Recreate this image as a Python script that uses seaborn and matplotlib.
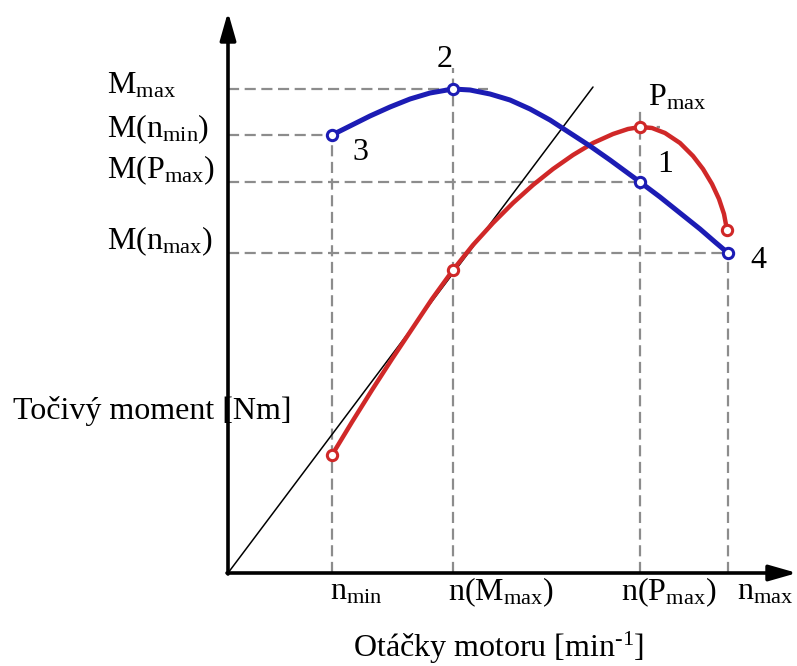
import matplotlib
matplotlib.use("Agg")
import matplotlib.pyplot as plt
import seaborn as sns
import pandas as pd

# ---- data (schematic units; origin at the axes corner) ----
key_x = {"n_min": 104, "n_Mmax": 225, "n_Pmax": 412, "n_max": 500}
key_y = {"M_max": 484, "M_nmin": 438, "M_Pmax": 391, "M_nmax": 320}

torque_x = [104, 122, 142, 162, 182, 202, 225, 242, 262, 282, 302, 322,
            342, 362, 382, 397, 412, 432, 452, 472, 487, 500]
torque_y = [438, 447, 457, 466, 474, 480, 484, 483, 479, 473, 464, 453,
            440, 427, 413, 402, 391, 376, 360, 344, 331, 320]
torque_pts_x = [104, 225, 412, 500]
torque_pts_y = [438, 484, 391, 320]
torque_pts_lab = ["3", "2", "1", "4"]

power_x = [104, 124, 144, 164, 184, 204, 225, 245, 265, 285, 305, 325, 345,
           365, 385, 400, 412, 424, 437, 452, 465, 475, 484, 491, 496, 499]
power_y = [118, 151, 183, 214, 244, 274, 303, 328, 350, 370, 388, 404, 418,
           430, 439, 444, 446, 445, 440, 430, 417, 404, 389, 374, 359, 343]
power_pts_x = [104, 225, 412, 499]
power_pts_y = [118, 303, 446, 343]

diag_x = [0, 365]
diag_y = [0, 486]

ytick_labels = [r"M$_{\mathrm{max}}$", r"M(n$_{\mathrm{min}}$)", r"M(P$_{\mathrm{max}}$)", r"M(n$_{\mathrm{max}}$)"]
xtick_labels = [r"n$_{\mathrm{min}}$", r"n(M$_{\mathrm{max}}$)", r"n(P$_{\mathrm{max}}$)", r"n$_{\mathrm{max}}$"]
ylabel = "Točivý moment [Nm]"
xlabel = r"Otáčky motoru [min$^{\text{-1}}$]"

sns.set_theme(style="white")
plt.rcParams["font.family"] = ["Liberation Serif", "DejaVu Serif"]
plt.rcParams["mathtext.fontset"] = "custom"
plt.rcParams["mathtext.rm"] = "Liberation Serif"
plt.rcParams["mathtext.it"] = "Liberation Serif:italic"
plt.rcParams["text.color"] = "black"

fig = plt.figure(figsize=(7.97, 6.66), dpi=100)
ax = fig.add_axes([0, 0, 1, 1])
ax.set_xlim(-228, 569)
ax.set_ylim(-93, 573)
ax.axis("off")

BLUE = "#1c1cb4"
RED = "#d02828"
GRID = "#8c8c8c"
FS = 23

# dashed guide lines
gkw = dict(color=GRID, lw=1.6, ls=(0, (5, 2.5)), zorder=1)
ax.plot([0, 260], [key_y["M_max"]] * 2, **gkw)
ax.plot([0, key_x["n_min"]], [key_y["M_nmin"]] * 2, **gkw)
ax.plot([0, key_x["n_Pmax"]], [key_y["M_Pmax"]] * 2, **gkw)
ax.plot([0, key_x["n_max"]], [key_y["M_nmax"]] * 2, **gkw)
ax.plot([key_x["n_Pmax"], 432], [446, 446], **gkw)
ax.plot([key_x["n_min"]] * 2, [0, key_y["M_nmin"]], **gkw)
ax.plot([key_x["n_Mmax"]] * 2, [0, 505], **gkw)
ax.plot([key_x["n_Pmax"]] * 2, [0, 465], **gkw)
ax.plot([key_x["n_max"]] * 2, [0, key_y["M_nmax"]], **gkw)

# diagonal reference line
sns.lineplot(x=diag_x, y=diag_y, ax=ax, color="black", lw=1.1, zorder=2)

# curves
df_t = pd.DataFrame({"x": torque_x, "y": torque_y})
df_p = pd.DataFrame({"x": power_x, "y": power_y})
sns.lineplot(data=df_p, x="x", y="y", sort=False, ax=ax, color=RED, lw=3.2, zorder=3,
             solid_joinstyle="round", solid_capstyle="round")
sns.lineplot(data=df_t, x="x", y="y", sort=False, ax=ax, color=BLUE, lw=3.6, zorder=4,
             solid_joinstyle="round", solid_capstyle="round")
sns.scatterplot(x=power_pts_x, y=power_pts_y, ax=ax, s=55, facecolor="white",
                edgecolor=RED, linewidth=2.2, zorder=5)
sns.scatterplot(x=torque_pts_x, y=torque_pts_y, ax=ax, s=55, facecolor="white",
                edgecolor=BLUE, linewidth=2.2, zorder=6)

# axes with arrows
ax.annotate("", xy=(0, 561), xytext=(0, -1),
            arrowprops=dict(arrowstyle="-|>,head_length=1.4,head_width=0.4", lw=2.6,
                            color="black", shrinkA=0, shrinkB=0), zorder=7)
ax.annotate("", xy=(569, 0), xytext=(-1, 0),
            arrowprops=dict(arrowstyle="-|>,head_length=1.4,head_width=0.4", lw=2.6,
                            color="black", shrinkA=0, shrinkB=0), zorder=7)

# y labels
ylab_y = [479, 436, 395, 324]
for lab, yy in zip(ytick_labels, ylab_y):
    ax.text(-121, yy, lab, fontsize=FS, ha="left", va="baseline")

# x labels
xlab_x = [102, 220, 393, 509]
for lab, xx in zip(xtick_labels, xlab_x):
    ax.text(xx, -27, lab, fontsize=FS, ha="left", va="baseline")

# point labels
pt_lab_pos = [(124, 413), (209, 506), (429, 401), (522, 305)]
for lab, (xx, yy) in zip(torque_pts_lab, pt_lab_pos):
    ax.text(xx, yy, lab, fontsize=FS, ha="left", va="baseline")
ax.text(420, 468, r"P$_{\mathrm{max}}$", fontsize=FS, ha="left", va="baseline")

ax.text(-215, 154, ylabel, fontsize=FS, ha="left", va="baseline")
ax.text(125, -84, xlabel, fontsize=FS, ha="left", va="baseline")

fig.savefig("out.png", dpi=100)
